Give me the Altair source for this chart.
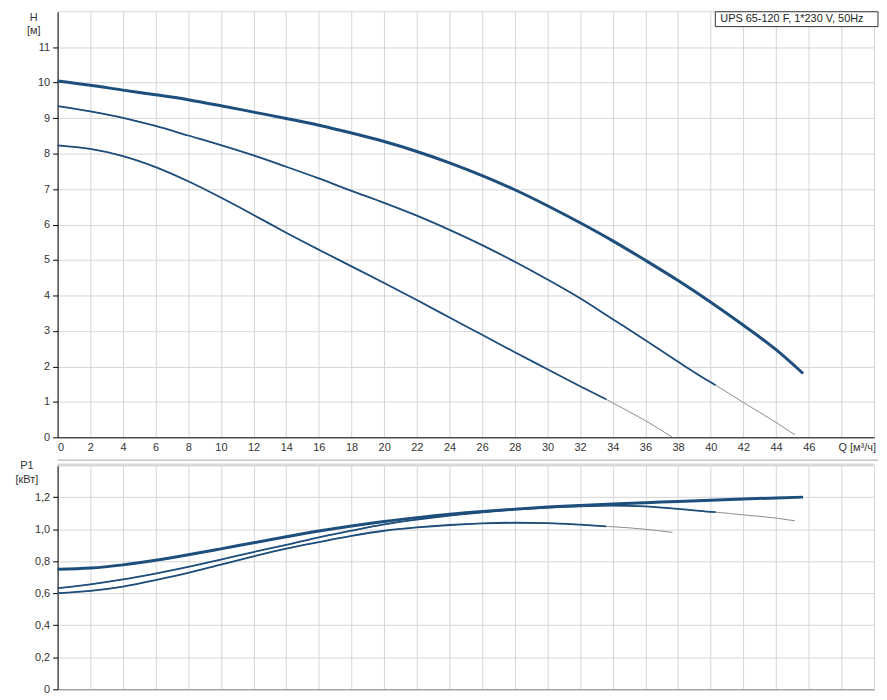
import altair as alt
import pandas as pd

# ---------------- data ----------------
Q_MAX = [0, 2, 4, 6, 8, 10, 12, 14, 16, 18, 20, 22, 24, 26, 28, 30, 32, 34, 36, 38, 40, 42, 44, 45.65]
H_MAX = [10.05, 9.93, 9.79, 9.66, 9.52, 9.35, 9.17, 8.99, 8.80, 8.58, 8.34, 8.06, 7.74, 7.38, 6.98, 6.53,
         6.05, 5.54, 4.99, 4.42, 3.81, 3.16, 2.47, 1.80]
P_MAX = [0.750, 0.757, 0.777, 0.806, 0.840, 0.877, 0.915, 0.952, 0.988, 1.020, 1.048, 1.072, 1.093, 1.110,
         1.125, 1.138, 1.148, 1.157, 1.165, 1.173, 1.181, 1.188, 1.195, 1.200]

Q_MID = [0, 2, 4, 6, 8, 10, 12, 14, 16, 18, 20, 22, 24, 26, 28, 30, 32, 34, 36, 38, 40, 40.3, 42, 44, 45.15]
H_MID = [9.34, 9.19, 9.01, 8.78, 8.51, 8.24, 7.95, 7.63, 7.30, 6.95, 6.61, 6.25, 5.85, 5.42, 4.95, 4.45,
         3.92, 3.33, 2.74, 2.13, 1.55, 1.47, 0.98, 0.42, 0.07]
P_MID = [0.631, 0.655, 0.686, 0.723, 0.764, 0.810, 0.857, 0.902, 0.949, 0.991, 1.030, 1.060, 1.085, 1.105,
         1.122, 1.135, 1.143, 1.147, 1.142, 1.126, 1.108, 1.106, 1.089, 1.069, 1.052]

Q_MIN = [0, 2, 4, 6, 8, 10, 12, 14, 16, 18, 20, 22, 24, 26, 28, 30, 32, 33.6, 34, 36, 37.65]
H_MIN = [8.23, 8.13, 7.93, 7.62, 7.22, 6.76, 6.27, 5.77, 5.29, 4.82, 4.35, 3.87, 3.38, 2.89, 2.40, 1.92,
         1.44, 1.07, 0.97, 0.47, 0.0]
P_MIN = [0.600, 0.614, 0.641, 0.682, 0.727, 0.779, 0.830, 0.878, 0.919, 0.958, 0.990, 1.011, 1.026, 1.036,
         1.040, 1.038, 1.028, 1.017, 1.015, 0.999, 0.980]

CURVES = ["max", "mid", "min"]
OP_LIMIT = [45.65, 40.3, 33.6]     # end of the operating (blue) part
LINE_W = [3.0, 1.8, 1.8]

X_TICKS = list(range(0, 51, 2))
H_TICKS = list(range(0, 12))
H_TOP_VAL = [12]
P_TICKS = [0, 0.2, 0.4, 0.6, 0.8, 1.0, 1.2]
P_TOP_VAL = [1.4]

TITLE = "UPS 65-120 F, 1*230 V, 50Hz"

# ---------------- build tables ----------------
rows = []
for name, qs, hs, ps, lim, w in zip(CURVES, [Q_MAX, Q_MID, Q_MIN], [H_MAX, H_MID, H_MIN],
                                    [P_MAX, P_MID, P_MIN], OP_LIMIT, LINE_W):
    for q, h, p in zip(qs, hs, ps):
        rows.append({"Q": q, "H": h, "P": p, "curve": name, "w": w, "op": q <= lim + 1e-9})
df = pd.DataFrame(rows)
df_op = df[df["op"]]

BLUE = "#1d4e7c"
GRAY_LINE = "#8c8c8c"
GRID = "#d4d4d4"
FONT = "Liberation Sans"
W = 823
H_TOP = 429
H_BOT = 226

xs = alt.Scale(domain=[0, 50], nice=False, zero=False)
ys_top = alt.Scale(domain=[0, 12], nice=False)
ys_bot = alt.Scale(domain=[0, 1.4], nice=False)

AX_X_TOP = alt.Axis(values=X_TICKS, grid=True, tickSize=0, labelPadding=4,
                    domainColor="#000000", domainWidth=1, title=None, labelOverlap=False,
                    labelExpr="datum.value >= 48 ? '' : datum.label")
AX_Y_TOP = alt.Axis(values=H_TICKS, grid=True, tickSize=5, tickColor="#000000",
                    domainColor="#000000", labelPadding=3, title=None, labelOverlap=False)
AX_X_BOT = alt.Axis(values=X_TICKS, grid=True, labels=False, ticks=False, title=None,
                    domainColor="#888888", domainWidth=1)
AX_Y_BOT = alt.Axis(values=P_TICKS, grid=True, tickSize=5, tickColor="#000000",
                    domainColor="#000000", labelPadding=3, title=None, labelOverlap=False,
                    labelExpr="datum.value == 0 ? '0' : replace(format(datum.value, '.1f'), '.', ',')")


def xq(ax):
    return alt.X("Q:Q", scale=xs, axis=ax, title=None)


# ---------------- top panel ----------------
y_top = alt.Y("H:Q", scale=ys_top, axis=AX_Y_TOP, title=None)

top_edge = alt.Chart(pd.DataFrame({"v": H_TOP_VAL})).mark_rule(color=GRID, strokeWidth=1).encode(
    y=alt.Y("v:Q", scale=ys_top, axis=AX_Y_TOP))
top_thin = alt.Chart(df).mark_line(color=GRAY_LINE, strokeWidth=1, interpolate="monotone").encode(
    x=xq(AX_X_TOP), y=y_top, detail="curve:N", order="Q:Q")
top_op = alt.Chart(df_op).mark_line(color=BLUE, interpolate="monotone").encode(
    x=xq(AX_X_TOP), y=y_top, detail="curve:N", order="Q:Q",
    strokeWidth=alt.StrokeWidth("w:Q", scale=None, legend=None))

lab_df = pd.DataFrame({"t": [TITLE]})
box = alt.Chart(lab_df).mark_rect(fill="white", stroke="#333333", strokeWidth=1).encode(
    x=alt.value(663), x2=alt.value(W + 4), y=alt.value(0), y2=alt.value(15))
box_txt = alt.Chart(lab_df).mark_text(align="left", baseline="middle", font=FONT, fontSize=11,
                                      color="#222222").encode(
    x=alt.value(668), y=alt.value(7.5), text="t:N")

h_unit = alt.Chart(pd.DataFrame({"t": ["H"]})).mark_text(
    align="center", baseline="top", font=FONT, fontSize=11, color="#333333", dy=0).encode(
    x=alt.value(-24), y=alt.value(0), text="t:N")
h_unit2 = alt.Chart(pd.DataFrame({"t": ["[м]"]})).mark_text(
    align="center", baseline="top", font=FONT, fontSize=11, color="#333333", dy=13).encode(
    x=alt.value(-24), y=alt.value(0), text="t:N")
q_unit = alt.Chart(pd.DataFrame({"t": ["Q [м³/ч]"]})).mark_text(
    align="center", baseline="top", font=FONT, fontSize=11, color="#333333", dx=16, dy=5).encode(
    x=alt.X(datum=48, type="quantitative", scale=xs, axis=AX_X_TOP),
    y=alt.Y(datum=0, type="quantitative", scale=ys_top, axis=AX_Y_TOP), text="t:N")

top = alt.layer(top_edge, top_thin, top_op, box, box_txt, h_unit, h_unit2, q_unit).properties(
    width=W, height=H_TOP)

# ---------------- bottom panel ----------------
y_bot = alt.Y("P:Q", scale=ys_bot, axis=AX_Y_BOT, title=None)
Y14 = alt.Y(datum=1.4, type="quantitative", scale=ys_bot, axis=AX_Y_BOT)

band = alt.Chart(pd.DataFrame({"v": P_TOP_VAL})).mark_rule(color="#d8d8d8", strokeWidth=3).encode(
    y=alt.Y("v:Q", scale=ys_bot, axis=AX_Y_BOT))
sep = alt.Chart(pd.DataFrame({"v": [0]})).mark_rule(color="#a8a8a8", strokeWidth=1).encode(
    x=alt.value(0), x2=alt.value(W + 4), y=alt.value(-5))
bot_thin = alt.Chart(df).mark_line(color=GRAY_LINE, strokeWidth=1, interpolate="monotone").encode(
    x=xq(AX_X_BOT), y=y_bot, detail="curve:N", order="Q:Q")
bot_op = alt.Chart(df_op).mark_line(color=BLUE, interpolate="monotone").encode(
    x=xq(AX_X_BOT), y=y_bot, detail="curve:N", order="Q:Q",
    strokeWidth=alt.StrokeWidth("w:Q", scale=None, legend=None))
p_unit = alt.Chart(pd.DataFrame({"t": ["P1"]})).mark_text(
    align="center", baseline="middle", font=FONT, fontSize=11, color="#333333", dy=1).encode(
    x=alt.value(-31), y=Y14, text="t:N")
p_unit2 = alt.Chart(pd.DataFrame({"t": ["[кВт]"]})).mark_text(
    align="center", baseline="middle", font=FONT, fontSize=11, color="#333333", dy=15).encode(
    x=alt.value(-31), y=Y14, text="t:N")

bottom = alt.layer(band, sep, bot_thin, bot_op, p_unit, p_unit2).properties(width=W, height=H_BOT)

chart = alt.vconcat(top, bottom, spacing=6).properties(
    padding={"left": 7, "top": 0, "right": 0, "bottom": 0}
).configure_view(strokeWidth=0).configure_axis(
    gridColor=GRID, gridWidth=1, labelFont=FONT, labelFontSize=11, labelColor="#333333",
    labelFontWeight="normal"
)

chart.save("out.html", embed_options={"renderer": "svg", "actions": False})
